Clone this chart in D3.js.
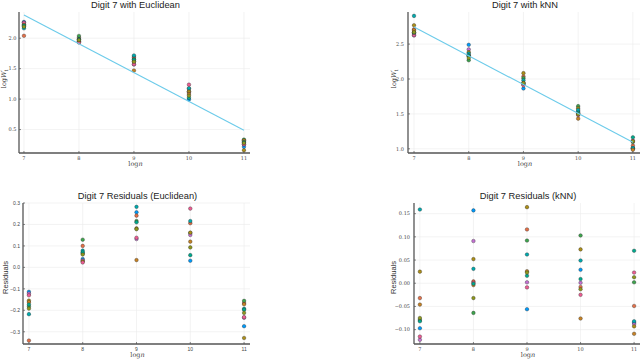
<!DOCTYPE html>
<html><head><meta charset="utf-8">
<script src="https://cdn.jsdelivr.net/npm/d3@7"></script>
<style>body{margin:0;background:#fff}svg{display:block}</style>
</head><body>
<svg id="c" width="640" height="359"></svg>
<script>
// ---- data ----
const logN = [7, 8, 9, 10, 11];
const palette = ["#009AFA","#E36F47","#3EA44E","#C371D2","#AC8E18","#00AAAE","#ED5E93","#C68225","#00A98D","#8E971D"];

// Euclidean: log W values per run (rows) at logn = 7..11
const eucLogW = [
  [2.266, 1.947, 1.692, 0.994, 0.216],
  [2.039, 2.008, 1.676, 1.169, 0.324],
  [2.198, 2.037, 1.651, 1.123, 0.334],
  [2.258, 1.941, 1.567, 1.114, 0.255],
  [2.225, 1.936, 1.617, 1.125, 0.161],
  [2.162, 1.986, 1.717, 1.179, 0.297],
  [2.250, 1.931, 1.573, 1.237, 0.258],
  [2.218, 1.973, 1.469, 1.083, 0.318],
  [2.207, 1.978, 1.645, 1.020, 0.293],
  [2.188, 1.968, 1.613, 1.056, 0.278]
];
const eucFit = [2.38, 0.49];      // fitted line value at logn = 7 and 11
const eucResid = [
  [-0.114, 0.039, 0.257, 0.031, -0.274],
  [-0.341, 0.100, 0.241, 0.206, -0.166],
  [-0.182, 0.129, 0.216, 0.160, -0.156],
  [-0.122, 0.033, 0.132, 0.151, -0.235],
  [-0.155, 0.028, 0.182, 0.162, -0.329],
  [-0.218, 0.078, 0.282, 0.216, -0.193],
  [-0.130, 0.023, 0.138, 0.274, -0.232],
  [-0.162, 0.065, 0.034, 0.120, -0.172],
  [-0.173, 0.070, 0.210, 0.057, -0.197],
  [-0.192, 0.060, 0.178, 0.093, -0.212]
];

// kNN
const knnLogW = [
  [2.648, 2.490, 1.864, 1.537, 1.010],
  [2.713, 2.337, 2.036, 1.500, 1.046],
  [2.666, 2.269, 2.012, 1.611, 1.097],
  [2.623, 2.424, 1.922, 1.509, 1.007],
  [2.770, 2.385, 2.084, 1.581, 1.002],
  [2.904, 2.364, 1.982, 1.557, 1.013],
  [2.630, 2.334, 1.911, 1.483, 1.118],
  [2.699, 2.329, 1.946, 1.432, 0.986],
  [2.663, 2.332, 1.936, 1.517, 1.165],
  [2.670, 2.301, 1.943, 1.495, 1.108]
];
const knnFit = [2.745, 1.095];
const knnResid = [
  [-0.097, 0.157, -0.056, 0.029, -0.085],
  [-0.032, 0.004, 0.116, -0.008, -0.049],
  [-0.079, -0.064, 0.092, 0.103, 0.002],
  [-0.122, 0.091, 0.002, 0.001, -0.088],
  [0.025, 0.052, 0.164, 0.073, -0.093],
  [0.159, 0.031, 0.062, 0.049, -0.082],
  [-0.115, 0.001, -0.009, -0.025, 0.023],
  [-0.046, -0.004, 0.026, -0.076, -0.109],
  [-0.082, -0.001, 0.016, 0.009, 0.070],
  [-0.075, -0.032, 0.023, -0.013, 0.013]
];

const eucTicks = [0.5, 1.0, 1.5, 2.0];
const knnTicks = [1.0, 1.5, 2.0, 2.5];
const eucResTicks = [-0.3, -0.2, -0.1, 0.0, 0.1, 0.2, 0.3];
const knnResTicks = [-0.10, -0.05, 0.00, 0.05, 0.10, 0.15];

// ---- layout ----
const panels = [
  {title:"Digit 7 with Euclidean", vals:eucLogW, fit:eucFit, yTicks:eucTicks, fmt:".1f",
   x0:19, x1:250, y0:12, y1:153, xd:[6.91,11.11], yd:[0.115,2.43], ylab:"logW", labX:6, tickGap:2.5, tickFont:"serif"},
  {title:"Digit 7 with kNN", vals:knnLogW, fit:knnFit, yTicks:knnTicks, fmt:".1f",
   x0:408, x1:640, y0:12, y1:153, xd:[6.89,11.13], yd:[0.94,2.96], ylab:"logW", labX:396, tickGap:4, tickFont:"serif"},
  {title:"Digit 7 Residuals (Euclidean)", vals:eucResid, fit:null, yTicks:eucResTicks, fmt:".1f",
   x0:23, x1:250, y0:203, y1:344, xd:[6.89,11.11], yd:[-0.357,0.30], ylab:"Residuals", labX:8, tickGap:3, tickFont:"sans"},
  {title:"Digit 7 Residuals (kNN)", vals:knnResid, fit:null, yTicks:knnResTicks, fmt:".2f",
   x0:414, x1:640, y0:203, y1:344, xd:[6.89,11.11], yd:[-0.131,0.173], ylab:"Residuals", labX:396, tickGap:4, tickFont:"serif"}
];

const svg = d3.select("#c");
const serif = "'DejaVu Serif','Liberation Serif',serif";
const sans = "'Liberation Sans','DejaVu Sans',Arial,sans-serif";

panels.forEach(p => {
  const x = d3.scaleLinear().domain(p.xd).range([p.x0, p.x1]);
  const y = d3.scaleLinear().domain(p.yd).range([p.y1, p.y0]);
  const g = svg.append("g");
  const tf = p.tickFont === "serif" ? serif : sans;

  // grid
  g.selectAll(".gx").data(logN).join("line")
    .attr("x1", d => x(d)).attr("x2", d => x(d)).attr("y1", p.y0).attr("y2", p.y1)
    .attr("stroke", "#ebebeb").attr("stroke-width", 0.6);
  g.selectAll(".gy").data(p.yTicks).join("line")
    .attr("x1", p.x0).attr("x2", p.x1).attr("y1", d => y(d)).attr("y2", d => y(d))
    .attr("stroke", "#ebebeb").attr("stroke-width", 0.6);

  // axes lines
  g.append("line").attr("x1", p.x0).attr("x2", p.x0).attr("y1", p.y0).attr("y2", p.y1)
    .attr("stroke", "#555").attr("stroke-width", 1.3);
  g.append("line").attr("x1", p.x0).attr("x2", p.x1).attr("y1", p.y1).attr("y2", p.y1)
    .attr("stroke", "#555").attr("stroke-width", 1.3);
  // ticks
  g.selectAll(".tx").data(logN).join("line")
    .attr("x1", d => x(d)).attr("x2", d => x(d)).attr("y1", p.y1).attr("y2", p.y1 - 2)
    .attr("stroke", "#555").attr("stroke-width", 0.7);
  g.selectAll(".ty").data(p.yTicks).join("line")
    .attr("x1", p.x0).attr("x2", p.x0 + 2).attr("y1", d => y(d)).attr("y2", d => y(d))
    .attr("stroke", "#555").attr("stroke-width", 0.7);

  // tick labels
  g.selectAll(".lx").data(logN).join("text")
    .attr("x", d => x(d)).attr("y", p.y1 + 7).attr("text-anchor", "middle")
    .attr("font-family", tf).attr("font-size", 5).attr("fill", "#444")
    .text(d => d);
  const f = d3.format(p.fmt);
  g.selectAll(".ly").data(p.yTicks).join("text")
    .attr("x", p.x0 - p.tickGap).attr("y", d => y(d) + 1.8).attr("text-anchor", "end")
    .attr("font-family", tf).attr("font-size", 5).attr("fill", "#444")
    .text(d => f(d).replace("-", "\u2212"));

  // title
  g.append("text").attr("x", (p.x0 + p.x1) / 2 + 1).attr("y", p.y0 - 4.5).attr("text-anchor", "middle")
    .attr("font-family", sans).attr("font-size", 9.3).attr("fill", "#222").text(p.title);

  // x label
  const xl = g.append("text").attr("x", (p.x0 + p.x1) / 2 + 1).attr("y", p.y1 + 13)
    .attr("text-anchor", "middle").attr("font-family", serif).attr("font-size", 6.5).attr("fill", "#444");
  xl.append("tspan").text("log");
  xl.append("tspan").attr("font-style", "italic").text("n");

  // y label
  const cy = (p.y0 + p.y1) / 2 + 4;
  const lx = p.labX;
  if (p.ylab === "Residuals") {
    g.append("text").attr("transform", `translate(${lx},${cy}) rotate(-90)`)
      .attr("text-anchor", "middle").attr("font-family", sans).attr("font-size", 7.5)
      .attr("fill", "#333").text("Residuals");
  } else {
    const t = g.append("text").attr("transform", `translate(${lx},${cy - 8}) rotate(-90)`)
      .attr("text-anchor", "middle").attr("font-family", serif).attr("font-size", 6.5).attr("fill", "#333");
    t.append("tspan").text("log");
    t.append("tspan").attr("font-style", "italic").text("W");
    t.append("tspan").attr("font-size", 4.5).attr("dy", -2.5).text("\u2032");
    t.append("tspan").attr("font-size", 4.5).attr("dy", 4.5).attr("dx", -1.5).text("1");
  }

  // points
  p.vals.forEach((row, si) => {
    g.selectAll(null).data(row).join("circle")
      .attr("cx", (d, i) => x(logN[i])).attr("cy", d => y(d)).attr("r", 1.8)
      .attr("fill", palette[si]).attr("stroke", "#222").attr("stroke-width", 0.35);
  });

  // fit line
  if (p.fit) {
    g.append("line").attr("x1", x(logN[0])).attr("y1", y(p.fit[0]))
      .attr("x2", x(logN[logN.length - 1])).attr("y2", y(p.fit[1]))
      .attr("stroke", "#6ccbea").attr("stroke-width", 1.1);
  }
});
</script>
</body></html>
